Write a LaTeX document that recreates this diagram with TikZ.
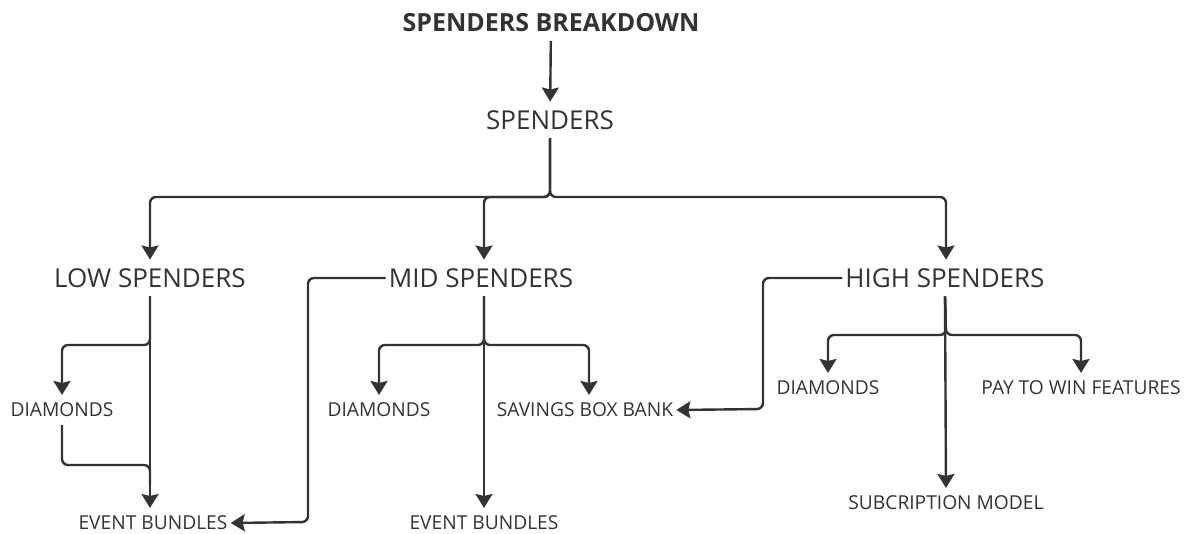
\documentclass[tikz,border=0pt]{standalone}
\usepackage{fontspec}
\setmainfont{Open Sans}
\usetikzlibrary{arrows.meta}
\definecolor{ink}{HTML}{333333}
\tikzstyle{lbl} = [text=ink, inner xsep=3pt, text depth=0pt]
\tikzstyle{big} = [lbl, font=\fontsize{26}{30}\selectfont, text height=18.5pt, inner ysep=9pt]
\tikzstyle{small} = [lbl, font=\fontsize{19.2}{23}\selectfont, text height=13.7pt, inner ysep=8pt]
\tikzstyle{head} = [lbl, font=\fontsize{25}{29}\selectfont\bfseries, text height=18pt, inner ysep=9pt]
\tikzstyle{link} = [draw=ink, line width=2.4pt, rounded corners=6pt]

\begin{document}
\begin{tikzpicture}[x=1pt,y=-1pt,>={Stealth[length=14pt,width=17pt,inset=2pt]}]
\useasboundingbox (0,0) rectangle (1189,534);

\node[head] (title) at (551,23) {SPENDERS BREAKDOWN};
\node[big] (sp) at (550,120) {SPENDERS};

\node[big] (low) at (150,278) {LOW SPENDERS};
\node[big] (mid) at (481,278) {MID SPENDERS};
\node[big] (high) at (945,278) {HIGH SPENDERS};

\node[small] (lowdia) at (62,410) {DIAMONDS};
\node[small] (lowev) at (153,523) {EVENT BUNDLES};

\node[small] (middia) at (379,410) {DIAMONDS};
\node[small] (midsav) at (585,410) {SAVINGS BOX BANK};
\node[small] (midev) at (484,523) {EVENT BUNDLES};

\node[small] (highdia) at (828,388) {DIAMONDS};
\node[small] (highpay) at (1081,388) {PAY TO WIN FEATURES};
\node[small] (highsub) at (946,503) {SUBCRIPTION MODEL};

% split points
\coordinate (spsplit) at (550,197);
\coordinate (lowbr) at (150,345);
\coordinate (lowjoin) at (150,465);
\coordinate (midbr) at (484,345);
\coordinate (midturn) at (308,522);
\coordinate (highbr) at (946,335);
\coordinate (highturn) at (763,409);

\draw[link,->] (title) -- (sp);
\draw[link,->] (sp.south) -- (spsplit) -| (low.north);
\draw[link,->] (sp.south) -- (spsplit) -| (midev.north |- mid.north);
\draw[link,->] (sp.south) -- (spsplit) -| (highsub.north |- high.north);

\draw[link,->] (low.south) -- (lowev.north -| low.south);
\draw[link,->] (low.south) -- (lowbr) -| (lowdia.north);
\draw[link] (lowdia.south) |- (lowjoin) -- ++(0,20);

\draw[link,->] (midev.north |- mid.south) -- (midev.north);
\draw[link,->] (midev.north |- mid.south) -- (midbr) -| (middia.north);
\draw[link,->] (midev.north |- mid.south) -- (midbr) -| (midsav.north -| 589,0);
\draw[link,->] (mid.west) -| (midturn) -- (lowev.east);

\draw[link,->] (high.south) -- (highsub.north);
\draw[link,->] (high.south) -- (highbr) -| (highdia.north);
\draw[link,->] (high.south) -- (highbr) -| (highpay.north);
\draw[link,->] (high.west) -| (highturn) -- (midsav.east);

\end{tikzpicture}
\end{document}
